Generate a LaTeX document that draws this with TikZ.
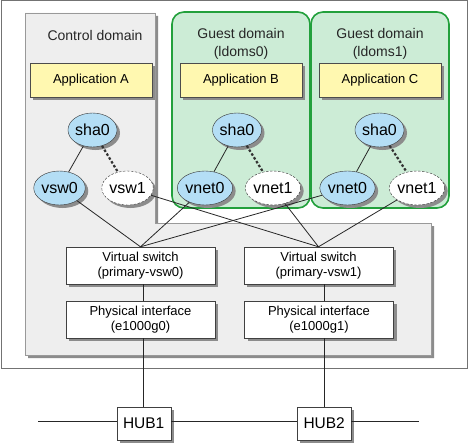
\documentclass[tikz,border=0pt]{standalone}
\usepackage{fontspec}
\setmainfont{Liberation Sans}
\usetikzlibrary{shapes.geometric,shadows}
\definecolor{appyellow}{HTML}{FFF8B0}
\definecolor{ethblue}{HTML}{B4DEF5}
\definecolor{guestfill}{HTML}{CCECD6}
\definecolor{guestline}{HTML}{22A03C}
\definecolor{ctlfill}{HTML}{EEEEEE}
\begin{document}
\begin{tikzpicture}[x=1pt,y=-1pt,
  shd/.style={drop shadow={shadow xshift=3pt,shadow yshift=-3pt,fill=black!45,opacity=1}},
  app/.style={draw=black!70,fill=appyellow,minimum width=122pt,minimum height=34pt,inner sep=0pt,font=\fontsize{13}{15}\selectfont,shd},
  ifc/.style={draw=black!75,fill=white,minimum width=149pt,minimum height=37pt,inner sep=0pt,align=center,font=\fontsize{13}{14.5}\selectfont,shd},
  hub/.style={draw=black!75,fill=white,minimum width=54pt,minimum height=33pt,inner sep=0pt,font=\fontsize{15.5}{17}\selectfont,shd},
  eth/.style={ellipse,draw=black!80,fill=ethblue,minimum width=49pt,minimum height=34pt,inner sep=0pt,font=\fontsize{16}{18}\selectfont,shd},
  ethoff/.style={eth,fill=white,dash pattern=on 2.5pt off 1.5pt},
  dlabel/.style={align=center,inner sep=0pt,font=\fontsize{14}{18}\selectfont,text=black!85},
  link/.style={draw=black!85,line width=0.8pt},
  dotlink/.style={draw=black!80,line width=2.2pt,dash pattern=on 2.5pt off 2pt},
  guest/.style={draw=guestline,fill=guestfill,line width=1.6pt,rounded corners=12pt}
]
\useasboundingbox (0,0) rectangle (469,444);
% outer frame
\draw[draw=black!55,line width=1pt,fill=white] (1,1) rectangle (467,368);
% control domain
\filldraw[fill=ctlfill,draw=black!40,line width=0.8pt,shd] (25,13) -- (155,13) -- (155,223) -- (431,223) -- (431,355) -- (25,355) -- cycle;
% guest domains
\draw[guest] (172,12) rectangle (310,208);
\draw[guest] (311,12) rectangle (449,208);
% labels
\node[dlabel] (ctl) at (95,35) {Control domain};
\node[dlabel] (g0) at (241,44) {Guest domain\\(ldoms0)};
\node[dlabel] (g1) at (380,44) {Guest domain\\(ldoms1)};
% applications
\node[app] (appA) at (91,80) {Application A};
\node[app] (appB) at (241,80) {Application B};
\node[app] (appC) at (380,80) {Application C};
% ellipses
\node[eth] (shaC) at (92.5,130) {sha0};
\node[eth] (vsw0) at (59.5,188) {vsw0};
\node[ethoff] (vsw1) at (127.5,188) {vsw1};
\node[eth] (shaA) at (237,130) {sha0};
\node[eth] (vnetA0) at (205,188) {vnet0};
\node[ethoff] (vnetA1) at (273,188) {vnet1};
\node[eth] (shaB) at (379.5,130) {sha0};
\node[eth] (vnetB0) at (347.5,188) {vnet0};
\node[ethoff] (vnetB1) at (417,188) {vnet1};
% switches and interfaces
\node[ifc] (pv0) at (140.5,265.5) {Virtual switch\\(primary-vsw0)};
\node[ifc] (pv1) at (318.5,265.5) {Virtual switch\\(primary-vsw1)};
\node[ifc] (pi0) at (140.5,319.5) {Physical interface\\(e1000g0)};
\node[ifc] (pi1) at (319,319.5) {Physical interface\\(e1000g1)};
% hubs
\node[hub] (hub1) at (143.7,423.3) {HUB1};
\node[hub] (hub2) at (324.2,423.3) {HUB2};
\coordinate (busL) at (38,421);
\coordinate (busR) at (419,421);
% connectors inside domains
\draw[link] (shaC) -- (vsw0);
\draw[dotlink] (shaC) -- (vsw1);
\draw[link] (shaA) -- (vnetA0);
\draw[dotlink] (shaA) -- (vnetA1);
\draw[link] (shaB) -- (vnetB0);
\draw[dotlink] (shaB) -- (vnetB1);
% connectors to virtual switches
\draw[link] (vsw0) -- (pv0.north);
\draw[link] (vnetA0) -- (pv0.north);
\draw[link] (vnetB0) -- (pv0.north);
\draw[link] (vsw1) -- (pv1.north);
\draw[link] (vnetA1) -- (pv1.north);
\draw[link] (vnetB1) -- (pv1.north);
% vertical links
\draw[link] (pv0.south -| hub1) -- (pi0.north -| hub1);
\draw[link] (pi0.south -| hub1) -- (hub1.north);
\draw[link] (pv1.south -| hub2) -- (pi1.north -| hub2);
\draw[link] (pi1.south -| hub2) -- (hub2.north);
% bus
\draw[link] (busL) -- (busL -| hub1.west);
\draw[link] (busL -| hub1.east) -- (busL -| hub2.west);
\draw[link] (busL -| hub2.east) -- (busR);
\end{tikzpicture}
\end{document}
